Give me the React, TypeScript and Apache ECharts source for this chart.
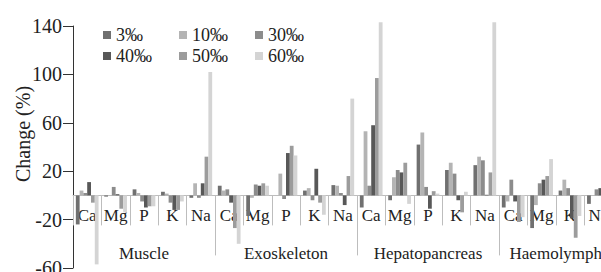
import React, { useEffect, useRef } from "react";
import * as echarts from "echarts";

const categories = ["Ca", "Mg", "P", "K", "Na", "Ca", "Mg", "P", "K", "Na", "Ca", "Mg", "P", "K", "Na", "Ca", "Mg", "K", "Na"];
const groups = ["Muscle", "Exoskeleton", "Hepatopancreas", "Haemolymph"];
const groupSizes = [5, 5, 5, 4];
const seriesNames = ["3‰", "10‰", "30‰", "40‰", "50‰", "60‰"];
const colors = ["#707070", "#b4b4b4", "#8c8c8c", "#585858", "#9c9c9c", "#d4d4d4"];

const s3 = [-24, -1, 5, 3, -2, 8, -17, 0, 4, 8.5, -10, -4, 42, 21, 25, -10, -27, 4, -7];
const s10 = [4, 0, 2, 1.5, 10, 4, -2, 18, 6, 8, 53, 15, 52, 27, 32, -5, -8, 13, 0];
const s30 = [2, 7, -5, -6, -2, 5, 9, -3, -4, 2, 8, 21, 7, 18, 29, 13, 10, 6, 5];
const s40 = [11, 1, -10, -12, 10, -6, 8, 35, 22, -8, 58, 19, -11, -4, 0.5, -5, 13, -19, 6];
const s50 = [-6, -11, -9, -12, 32, -27, 10, 41, -6, 16, 97, 27, 3.5, -14, 19, -22, 16, -35, 4];
const s60 = [-57, -14, -9, -5, 102, -40, 8, 33, -16, 80, 143, -7, 1.5, 3, 143, -18, 30, -17, 3];
const seriesValues = [s3, s10, s30, s40, s50, s60];

const yTicks = { min: -60, max: 140, interval: 40 };

export default function App() {
  const ref = useRef<HTMLDivElement>(null);
  useEffect(() => {
    if (!ref.current) return;
    const chart = echarts.init(ref.current, undefined, { renderer: "svg" });
    const font = "'Liberation Serif', 'Times New Roman', serif";
    const H = 272;
    const top = 26;
    const bottom = 4;
    const plotH = H - top - bottom;
    const zeroOffset = -(plotH * (0 - yTicks.min)) / (yTicks.max - yTicks.min);
    const bounds: number[] = [];
    const centers: number[] = [];
    let acc = 0;
    groupSizes.forEach((n, i) => {
      centers.push(acc + n / 2);
      acc += n;
      if (i < groupSizes.length - 1) bounds.push(acc);
    });
    const option: any = {
      animation: false,
      textStyle: { fontFamily: font },
      grid: { left: 73, right: -11.6, top, bottom, containLabel: false, outerBoundsMode: "none" },
      legend: {
        left: 103,
        top: 26,
        width: 230,
        itemWidth: 8,
        itemHeight: 8,
        itemGap: 3,
        icon: "rect",
        padding: 0,
        textStyle: { fontFamily: font, fontSize: 18, color: "#222", width: 60, lineHeight: 18 },
        data: seriesNames,
      },
      xAxis: [
        {
          type: "category",
          data: categories,
          position: "bottom",
          offset: zeroOffset,
          axisLine: { onZero: false, lineStyle: { color: "#bdbdbd", width: 1 } },
          axisTick: { show: true, interval: 0, length: 30, lineStyle: { color: "#bdbdbd" } },
          axisLabel: { interval: 0, margin: 12, fontFamily: font, fontSize: 17, color: "#222" },
          splitLine: { show: false },
        },
        {
          type: "value",
          min: 0,
          max: categories.length,
          position: "bottom",
          offset: zeroOffset,
          axisLine: { show: false, onZero: false },
          axisTick: { show: true, customValues: bounds, length: 60, lineStyle: { color: "#bdbdbd" } },
          axisLabel: {
            show: true,
            customValues: centers,
            margin: 50,
            fontFamily: font,
            fontSize: 17,
            color: "#222",
            formatter: (v: number) => {
              const idx = centers.findIndex((c) => Math.abs(c - v) < 1e-6);
              return idx >= 0 ? groups[idx] : "";
            },
          },
          splitLine: { show: false },
        },
      ],
      yAxis: {
        type: "value",
        min: yTicks.min,
        max: yTicks.max,
        interval: yTicks.interval,
        name: "Change (%)",
        nameLocation: "middle",
        nameGap: 40,
        nameMoveOverlap: false,
        nameTextStyle: { fontFamily: font, fontSize: 20, color: "#222", padding: [0, 0, 0, 26] },
        axisLine: { show: true, onZero: false, lineStyle: { color: "#333", width: 1 } },
        axisTick: { show: true, length: 10, lineStyle: { color: "#333" } },
        axisLabel: { margin: 11, fontFamily: font, fontSize: 20, color: "#222" },
        splitLine: { show: false },
      },
      series: seriesNames.map((name, i) => ({
        name,
        type: "bar",
        xAxisIndex: 0,
        data: seriesValues[i],
        barGap: "0%",
        barCategoryGap: "20%",
        clip: false,
        itemStyle: { color: colors[i] },
      })),
    };
    chart.setOption(option);
    return () => chart.dispose();
  }, []);
  return (
    <div
      ref={ref}
      style={{ position: "fixed", left: 0, top: 0, width: 601, height: 272, background: "#fff" }}
    />
  );
}
